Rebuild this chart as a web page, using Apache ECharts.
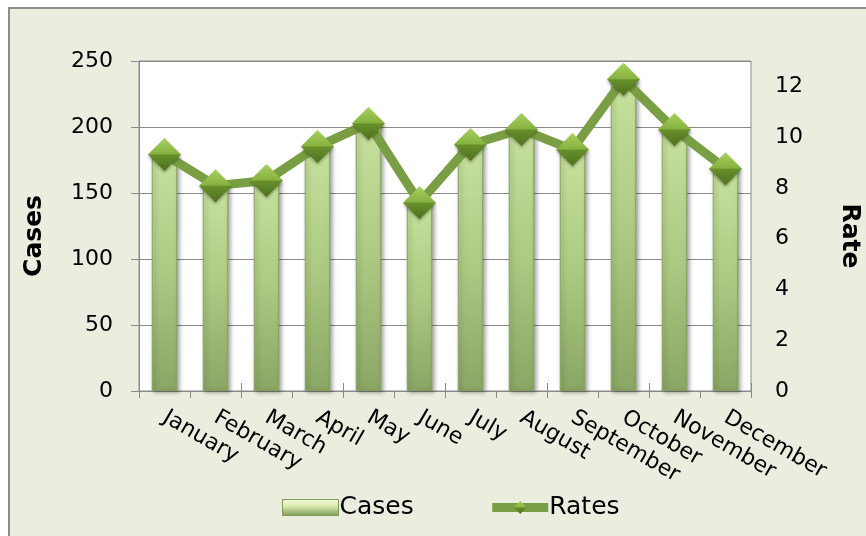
<!DOCTYPE html>
<html>
  <head>
    <meta charset="UTF-8">
    <title>Cases and Rates</title>
    <script src="https://cdn.jsdelivr.net/npm/echarts@6/dist/echarts.min.js"></script>
    <style>
    * {
      margin: 0;
      padding: 0;
    }
    body {
      background: #fff;
    }
    </style>
  </head>
  <body>
    <div id="main" style="width: 866px;height: 536px"></div>
    <script>
var months = ['January', 'February', 'March', 'April', 'May', 'June', 'July', 'August', 'September', 'October', 'November', 'December']
var cases = [179, 155, 159, 185, 202, 142, 186, 198, 183, 236, 198, 168]
var rates = [9.32, 8.09, 8.29, 9.63, 10.54, 7.42, 9.71, 10.30, 9.51, 12.28, 10.30, 8.76]

var font = 'DejaVu Sans'
var gray = '#8a8a8a'

function vgrad(stops) {
  return new echarts.graphic.LinearGradient(0, 0, 0, 1, stops.map(function (c) {
    return { offset: c[0], color: c[1] }
  }))
}

var barColor = vgrad([[0, '#c6e19c'], [0.5, '#acca82'], [1, '#8aa664']])
var diamondColor = vgrad([[0, '#a8d160'], [0.48, '#86b23f'], [0.52, '#668f2a'], [1, '#4e7120']])

var myChart = echarts.init(document.getElementById('main'))
var option = {
  animation: false,
  backgroundColor: '#fff',
  textStyle: { fontFamily: font },
  graphic: [
    {
      type: 'rect',
      z: -10,
      shape: { x: 9, y: 8, width: 870, height: 540 },
      style: { fill: '#ebeede', stroke: '#8c8c8c', lineWidth: 2 }
    },
    {
      type: 'text',
      x: 34, y: 236,
      rotation: Math.PI / 2,
      style: { text: 'Cases', font: 'bold 25px "DejaVu Sans"', fill: '#000', textAlign: 'center', textVerticalAlign: 'middle' }
    },
    {
      type: 'text',
      x: 849, y: 236,
      rotation: -Math.PI / 2,
      style: { text: 'Rate', font: 'bold 25px "DejaVu Sans"', fill: '#000', textAlign: 'center', textVerticalAlign: 'middle' }
    }
  ],
  grid: {
    left: 139, right: 115, top: 61, bottom: 145,
    show: true,
    backgroundColor: '#fff',
    borderColor: gray,
    borderWidth: 1
  },
  legend: {
    left: 277,
    top: 490,
    itemGap: 74,
    itemWidth: 56,
    itemHeight: 16,
    textStyle: { fontFamily: font, fontSize: 25, color: '#000', padding: [0, 0, 0, -4] },
    data: [
      {
        name: 'Cases',
        icon: 'rect',
        itemStyle: {
          color: vgrad([[0, '#f6fcd9'], [0.4, '#dcecb4'], [1, '#7f9b58']]),
          borderColor: '#7f9b58',
          borderWidth: 1
        }
      },
      {
        name: 'Rates',
        lineStyle: { width: 9, color: '#7a9e43' }
      }
    ]
  },
  xAxis: [
    {
      type: 'category',
      data: months,
      axisLine: { lineStyle: { color: gray, width: 1 } },
      axisTick: { show: true, length: 7, lineStyle: { color: gray } },
      axisLabel: {
        rotate: -30,
        margin: 25,
        fontFamily: font,
        fontSize: 22,
        color: '#000',
        interval: 0
      }
    },
    {
      type: 'category',
      data: months,
      position: 'bottom',
      axisLine: { show: false },
      axisTick: { show: true, inside: true, length: 8, lineStyle: { color: gray } },
      axisLabel: { show: false }
    }
  ],
  yAxis: [
    {
      type: 'value',
      min: 0,
      max: 250,
      interval: 50,
      axisLine: { show: true, lineStyle: { color: gray } },
      axisTick: { show: true, length: 8, lineStyle: { color: gray } },
      axisLabel: { margin: 26, fontFamily: font, fontSize: 22, color: '#000' },
      splitLine: { lineStyle: { color: gray, width: 1 } }
    },
    {
      type: 'value',
      min: 0,
      max: 13,
      interval: 2,
      position: 'right',
      axisLine: { show: false },
      axisTick: { show: false },
      axisLabel: { margin: 24, fontFamily: font, fontSize: 22, color: '#000', showMaxLabel: false },
      splitLine: { show: false }
    }
  ],
  series: [
    {
      name: 'Cases',
      type: 'bar',
      data: cases,
      barWidth: '50%',
      itemStyle: {
        color: barColor,
        borderColor: '#86a25e',
        borderWidth: 1,
        shadowColor: 'rgba(0,0,0,0.35)',
        shadowBlur: 4,
        shadowOffsetX: 2,
        shadowOffsetY: 1
      }
    },
    {
      name: 'Rates',
      type: 'line',
      yAxisIndex: 1,
      data: rates,
      z: 5,
      symbol: 'diamond',
      symbolSize: 33,
      lineStyle: { color: '#7a9e43', width: 9 },
      itemStyle: {
        color: diamondColor,
        shadowColor: 'rgba(0,0,0,0.3)',
        shadowBlur: 3,
        shadowOffsetY: 2
      }
    },
    {
      name: 'ticks',
      type: 'line',
      xAxisIndex: 1,
      data: [],
      silent: true
    }
  ]
}
myChart.setOption(option)
    </script>
  </body>
</html>
